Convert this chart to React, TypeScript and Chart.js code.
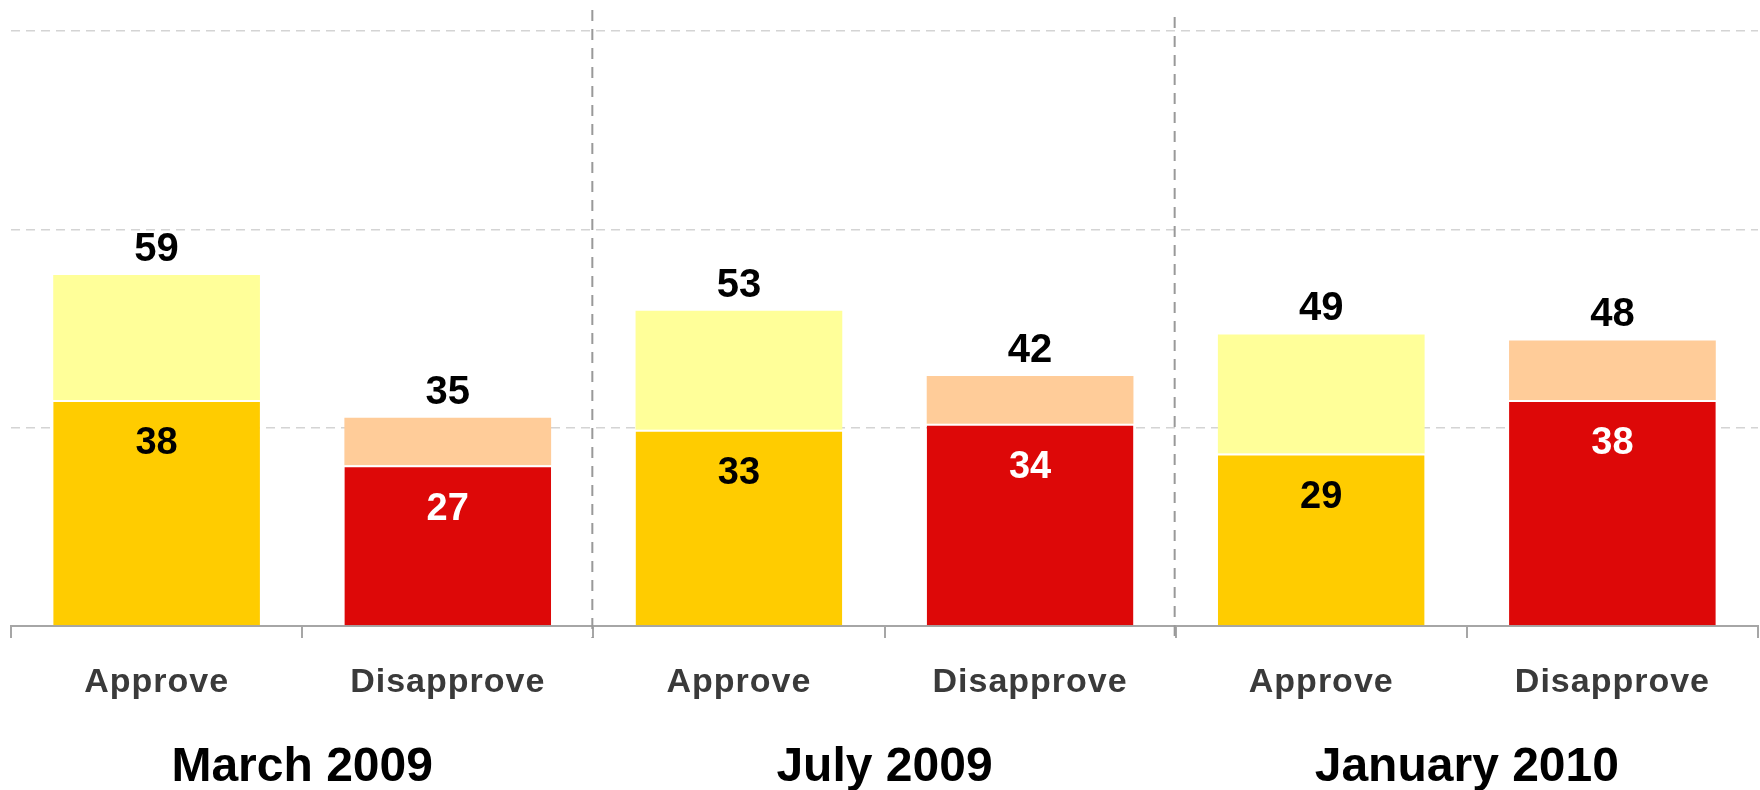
import React, { useEffect, useRef } from "react";
import { Chart, registerables } from "chart.js";

Chart.register(...registerables);

const categories = ["Approve", "Disapprove", "Approve", "Disapprove", "Approve", "Disapprove"];
const groups = ["March 2009", "July 2009", "January 2010"];
const baseValues = [38, 27, 33, 34, 29, 38];
const topValues = [21, 8, 20, 8, 20, 10];
const totalLabels = ["59", "35", "53", "42", "49", "48"];
const gridValues = [0, 100 / 3, 200 / 3, 100];

const baseColors = ["#FFCC00", "#DD0808", "#FFCC00", "#DD0808", "#FFCC00", "#DD0808"];
const topColors = ["#FFFF99", "#FFCC99", "#FFFF99", "#FFCC99", "#FFFF99", "#FFCC99"];
const baseLabelColors = ["#000000", "#FFFFFF", "#000000", "#FFFFFF", "#000000", "#FFFFFF"];

const FONT = "'Liberation Sans', Arial, Helvetica, sans-serif";

const overlayPlugin = {
  id: "overlay",
  beforeDraw(chart: any) {
    chart.ctx.letterSpacing = "1px";
  },
  beforeDatasetsDraw(chart: any) {
    const ctx = chart.ctx;
    ctx.letterSpacing = "0px";
    const x = chart.scales.x;
    ctx.save();
    ctx.strokeStyle = "#999999";
    ctx.lineWidth = 2;
    ctx.setLineDash([11, 8]);
    const starts = [10, 17];
    for (let g = 1; g < groups.length; g++) {
      const bx = (x.getPixelForValue(2 * g - 1) + x.getPixelForValue(2 * g)) / 2 - 1;
      ctx.beginPath();
      ctx.moveTo(bx, starts[g - 1]);
      ctx.lineTo(bx, chart.chartArea.bottom + 12);
      ctx.stroke();
    }
    ctx.restore();
  },
  afterDatasetsDraw(chart: any) {
    const ctx = chart.ctx;
    ctx.save();
    ctx.letterSpacing = "0px";
    ctx.textAlign = "center";
    ctx.textBaseline = "middle";
    const m0 = chart.getDatasetMeta(0);
    const m1 = chart.getDatasetMeta(1);
    for (let i = 0; i < categories.length; i++) {
      const b0 = m0.data[i];
      const b1 = m1.data[i];
      ctx.font = `bold 38px ${FONT}`;
      ctx.fillStyle = baseLabelColors[i];
      ctx.fillText(String(baseValues[i]), b0.x, b0.y + 44);
      ctx.font = `bold 40px ${FONT}`;
      ctx.fillStyle = "#000000";
      ctx.fillText(totalLabels[i], b1.x, b1.y - 25);
    }
    const x = chart.scales.x;
    ctx.font = `bold 48px ${FONT}`;
    ctx.textBaseline = "alphabetic";
    for (let g = 0; g < groups.length; g++) {
      const cx = (x.getPixelForValue(2 * g) + x.getPixelForValue(2 * g + 1)) / 2;
      ctx.fillText(groups[g], cx, 781);
    }
    ctx.restore();
  },
};

export default function App() {
  const ref = useRef<HTMLCanvasElement | null>(null);
  useEffect(() => {
    if (!ref.current) return;
    Chart.defaults.font.family = FONT;
    const chart = new Chart(ref.current, {
      type: "bar",
      data: {
        labels: categories,
        datasets: [
          {
            label: "base",
            data: baseValues,
            backgroundColor: baseColors,
            borderColor: "#FFFFFF",
            borderWidth: { top: 2, left: 0, right: 0, bottom: 0 },
            borderSkipped: false,
            barPercentage: 0.71,
            categoryPercentage: 1,
          },
          {
            label: "top",
            data: topValues,
            backgroundColor: topColors,
            borderWidth: 0,
            barPercentage: 0.71,
            categoryPercentage: 1,
          },
        ],
      },
      options: {
        responsive: false,
        animation: false,
        devicePixelRatio: 1,
        layout: { padding: { left: 11, right: 2, top: 31, bottom: 0 } },
        plugins: { legend: { display: false }, tooltip: { enabled: false } },
        scales: {
          x: {
            stacked: true,
            offset: true,
            afterFit: (s: any) => {
              s.height = 164;
            },
            grid: {
              offset: true,
              drawOnChartArea: false,
              drawTicks: true,
              tickLength: 12,
              color: "#A6A6A6",
              lineWidth: 2,
            },
            border: { display: true, color: "#A6A6A6", width: 2 },
            ticks: {
              color: "#3A3A3A",
              font: { size: 34, weight: "bold", family: FONT },
              padding: 24,
              maxRotation: 0,
              autoSkip: false,
            },
          },
          y: {
            stacked: true,
            min: 0,
            max: 100,
            afterFit: (s: any) => {
              s.width = 0;
            },
            afterBuildTicks: (s: any) => {
              s.ticks = gridValues.map((v) => ({ value: v }));
            },
            grid: {
              color: "#D4D4D4",
              lineWidth: 1.5,
              drawTicks: false,
            },
            border: { display: false, dash: [9, 6] },
            ticks: { display: false },
          },
        },
      },
      plugins: [overlayPlugin],
    });
    return () => chart.destroy();
  }, []);
  return (
    <div style={{ position: "fixed", left: 0, top: 0, width: 1760, height: 790, background: "#fff" }}>
      <canvas ref={ref} width={1760} height={790} />
    </div>
  );
}
